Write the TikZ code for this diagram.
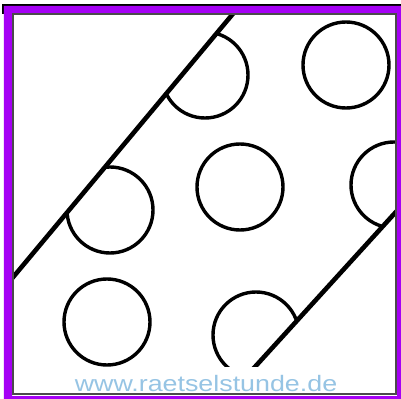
\documentclass[tikz,border=0pt]{standalone}
\usepackage{fontspec}
\setmainfont{Liberation Sans}
\usepackage{graphicx}
\definecolor{framepurple}{RGB}{165,0,245}
\definecolor{framegray}{RGB}{75,75,75}
\definecolor{urlblue}{RGB}{150,196,228}

\begin{document}
\begin{tikzpicture}[x=0.25mm,y=-0.25mm,
    ring/.style={line width=0.85mm},
    edge/.style={line width=1.15mm}]
  \useasboundingbox (0,0) rectangle (401,399);
  \fill[white] (0,0) rectangle (401,399);
  % ends of the two parallel lines
  \coordinate (l1a) at (277,-39);
  \coordinate (l1b) at (-31,330);
  \coordinate (l2a) at (465,136);
  \coordinate (l2b) at (213,413);
  \begin{scope}
    \clip (13,14) rectangle (396,394);
    % circles outside the band
    \draw[ring] (346,65) circle[radius=10.75mm];
    \draw[ring] (107,322) circle[radius=10.75mm];
    % circles in the band, cut by its edges
    \begin{scope}
      \clip (l1a) -- (l1b) -- (l2b) -- (l2a) -- cycle;
      \draw[ring] (240,187) circle[radius=10.75mm];
      \draw[ring] (205,75) circle[radius=10.75mm];
      \draw[ring] (110,210) circle[radius=10.75mm];
      \draw[ring] (394,185) circle[radius=10.75mm];
      \draw[ring] (256,335) circle[radius=10.75mm];
    \end{scope}
    \draw[edge] (l1a) -- (l1b);
    \draw[edge] (l2a) -- (l2b);
  \end{scope}
  \node[fill=white,anchor=base,inner xsep=1.6mm,inner ysep=0pt,
        text height=6mm,text depth=0.75mm,text=urlblue,
        font=\fontsize{15.9}{18}\selectfont] (url) at (206,391)
        {\scalebox{1.2}[1]{www.raetselstunde.de}};
  % frame
  \fill[black] (2,4) rectangle (401,6);
  \fill[black] (2,4) rectangle (4,14);
  \fill[framepurple,even odd rule] (4,6) rectangle (401,399)
        (12,13) rectangle (397,396);
  \draw[framegray,line width=0.5mm] (13,14) rectangle (396,394);
\end{tikzpicture}
\end{document}
